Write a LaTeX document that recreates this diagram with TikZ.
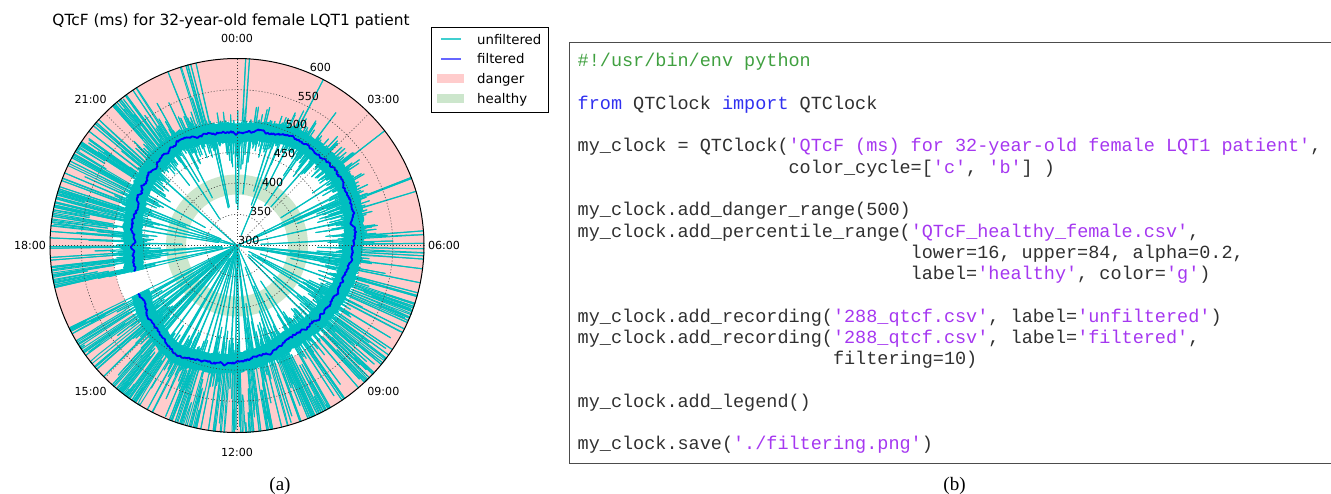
\documentclass[tikz,border=0pt]{standalone}
\usepackage{fontspec}
\setmainfont{Liberation Serif}
\setsansfont{DejaVu Sans}
\setmonofont{Liberation Mono}
\usetikzlibrary{positioning}

\definecolor{mplCyan}     {RGB}{  0,191,191}
\definecolor{mplBlue}     {RGB}{  0,  0,255}
\definecolor{dangerPink}  {RGB}{255,204,204}
\definecolor{healthyGreen}{RGB}{204,230,204}
\definecolor{codeComment} {RGB}{ 64,160, 64}
\definecolor{codeKeyword} {RGB}{ 48, 48,240}
\definecolor{codeString}  {RGB}{165, 55,240}
\definecolor{codeText}    {RGB}{ 48, 48, 48}

\newcommand\pycom[1]{\textcolor{codeComment}{#1}}
\newcommand\pykw[1]{\textcolor{codeKeyword}{#1}}
\newcommand\pystr[1]{\textcolor{codeString}{#1}}

%% tables over clock angle, one entry every 30 deg (00:00 = 0, clockwise)
\def\qtMeanTab{{112,122,124,116,110,107,117,124,109,103,111,119,112}}
\def\qtOutTab{{0.035,0.04,0.05,0.12,0.45,0.70,0.85,0.85,0.85,0.90,0.70,0.22,0.035}}
\def\qtCenTab{{0.002,0.004,0.01,0.04,0.05,0.045,0.05,0.06,0.07,0.05,0.02,0.006,0.002}}

%% linear lookup in one of the tables
\newcommand\qtLookup[3]{%
  \pgfmathsetmacro\qtA{mod(#2,360)/30}%
  \pgfmathtruncatemacro\qtK{\qtA}%
  \pgfmathtruncatemacro\qtKK{\qtK+1}%
  \pgfmathsetmacro#3{#1[\qtK]*(1-(\qtA-\qtK))+#1[\qtKK]*(\qtA-\qtK)}}

\begin{document}
\begin{tikzpicture}[
  x=1pt, y=-1pt,
  %% polar axes
  spine/.style={line width=1pt, black},
  polgrid/.style={line width=0.6pt, black!75, dash pattern=on 1pt off 2pt},
  raw/.style={mplCyan, line width=1pt, line cap=round},
  filt/.style={mplBlue, line width=1.8pt, line join=round},
  hlab/.style={font=\sffamily\fontsize{11.1}{13}\selectfont, inner sep=0pt},
  rlab/.style={font=\sffamily\fontsize{11.1}{13}\selectfont,
    anchor=south west, inner sep=1pt},
  ttl/.style={font=\sffamily\fontsize{15.4}{18}\selectfont, anchor=base, inner sep=0pt},
  %% legend
  legbox/.style={draw=black, line width=0.9pt, minimum width=116.6pt,
    minimum height=85pt, inner sep=0pt},
  legtxt/.style={font=\sffamily\fontsize{13.3}{15}\selectfont,
    anchor=base west, inner sep=0pt},
  %% listing
  codeframe/.style={draw=black!70, line width=1.4pt},
  codeln/.style={font=\ttfamily\fontsize{18.5}{21.3}\selectfont, text=codeText,
    anchor=base west, inner sep=0pt},
  subcap/.style={font=\fontsize{19}{22}\selectfont, anchor=base, inner sep=0pt},
]
\useasboundingbox (0,0) rectangle (1331,493);

%% ── Positions ──────────────────────────────────────────────────────────────
\def\cx{237}     % centre of the clock
\def\cy{245.5}
\def\rO{187}     % 600 ms ring
\def\xC{577.5}   % left edge of code text
\def\cw{11.1}    % code character width
\def\yC{66.7}    % first code baseline
\def\lh{21.29}   % code line height

%% ── TITLE ──────────────────────────────────────────────────────────────────
\node[ttl] (title) at (231,25.7) {QTcF (ms) for 32-year-old female LQT1 patient};

%% ── CLOCK BACKGROUND ───────────────────────────────────────────────────────
\coordinate (ctr) at (\cx,\cy);

% danger range 500--600 and healthy percentile band
\fill[dangerPink, even odd rule] (ctr) circle[radius=\rO] (ctr) circle[radius=124.7];
\fill[healthyGreen, even odd rule] (ctr) circle[radius=71] (ctr) circle[radius=51];

%% ── RAW RECORDING ──────────────────────────────────────────────────────────
\pgfmathsetseed{2871}

% dense core of the trace, one point per degree, 16:15--17:00 missing
\foreach \d in {0,...,348}{%
  \pgfmathsetmacro\qtDeg{256+\d}%
  \qtLookup\qtMeanTab{\qtDeg}\qtM
  \pgfmathsetmacro\qtRo{\qtM+9+2*rnd}%
  \pgfmathsetmacro\qtRi{\qtM-9-1.5*rnd}%
  \pgfmathsetmacro\qtXo{\cx+\qtRo*sin(\qtDeg)}%
  \pgfmathsetmacro\qtYo{\cy-\qtRo*cos(\qtDeg)}%
  \pgfmathsetmacro\qtXi{\cx+\qtRi*sin(\qtDeg)}%
  \pgfmathsetmacro\qtYi{\cy-\qtRi*cos(\qtDeg)}%
  \ifnum\d=0
    \xdef\qtCoreOut{(\qtXo,\qtYo)}\xdef\qtCoreIn{(\qtXi,\qtYi)}%
  \else
    \xdef\qtCoreOut{\qtCoreOut -- (\qtXo,\qtYo)}%
    \xdef\qtCoreIn{(\qtXi,\qtYi) -- \qtCoreIn}%
  \fi
}
\fill[mplCyan] \qtCoreOut -- \qtCoreIn -- cycle;

% six samples per degree
\xdef\qtPx{\cx}\xdef\qtPy{\cy}
\foreach \d in {0,...,347}{%
  \pgfmathsetmacro\qtDeg{256+\d}%
  \pgfmathsetmacro\qtDm{mod(\qtDeg,360)}%
  \qtLookup\qtMeanTab{\qtDeg}\qtM
  \qtLookup\qtOutTab{\qtDeg}\qtPo
  \qtLookup\qtCenTab{\qtDeg}\qtPc
  \pgfmathsetmacro\qtPo{min(0.92,\qtPo*(0.3+1.5*max(0,sin(17*\qtDm+5)+0.6*sin(43*\qtDm+40))))}%
  \pgfmathsetmacro\qtCutB{\qtPc+\qtPo}%
  \pgfmathsetmacro\qtCutC{\qtCutB+0.22}%
  \pgfmathsetmacro\qtCutD{\qtCutC+0.03}%
  \pgfmathsetmacro\qtCutE{\qtCutD+0.12}%
  \foreach \s in {0,...,5}{%
    \pgfmathsetmacro\qtTh{\qtDm+\s/6}%
    \pgfmathsetmacro\qtU{rnd}%
    \ifdim\qtU pt<\qtPc pt
      \pgfmathsetmacro\qtRad{max(0,40*rnd-15)}%
    \else\ifdim\qtU pt<\qtCutB pt
      \pgfmathsetmacro\qtRad{min(187,\qtM+8+(250-\qtM)*rnd)}%
    \else\ifdim\qtU pt<\qtCutC pt
      \pgfmathsetmacro\qtRad{\qtM-12-28*rnd*rnd}%
    \else\ifdim\qtU pt<\qtCutD pt
      \pgfmathsetmacro\qtRad{\qtM-12-75*rnd}%
    \else\ifdim\qtU pt<\qtCutE pt
      \pgfmathsetmacro\qtRad{\qtM+10+16*rnd}%
    \else
      \pgfmathsetmacro\qtRad{\qtM-13+26*rnd}%
    \fi\fi\fi\fi\fi
    \pgfmathsetmacro\qtX{\cx+\qtRad*sin(\qtTh)}%
    \pgfmathsetmacro\qtY{\cy-\qtRad*cos(\qtTh)}%
    \draw[raw] (\qtPx,\qtPy) -- (\qtX,\qtY);
    \xdef\qtPx{\qtX}\xdef\qtPy{\qtY}%
  }%
}
\draw[raw] (\qtPx,\qtPy) -- (ctr);

%% ── FILTERED RECORDING ─────────────────────────────────────────────────────
\gdef\qtW{0}
\foreach \i in {0,...,696}{%
  \pgfmathsetmacro\qtTh{256+0.5*\i}%
  \qtLookup\qtMeanTab{\qtTh}\qtM
  \pgfmathsetmacro\qtWn{0.8*\qtW+2.4*(rnd-0.5)}%
  \xdef\qtW{\qtWn}%
  \pgfmathsetmacro\qtX{\cx+(\qtM+\qtW)*sin(\qtTh)}%
  \pgfmathsetmacro\qtY{\cy-(\qtM+\qtW)*cos(\qtTh)}%
  \ifnum\i=0 \xdef\qtFiltPath{(\qtX,\qtY)}%
  \else \xdef\qtFiltPath{\qtFiltPath -- (\qtX,\qtY)}\fi
}
\draw[filt] \qtFiltPath;

%% ── GRID AND LABELS ────────────────────────────────────────────────────────
\begin{scope}[shift={(\cx,\cy)}]
  \foreach \r in {31.17,62.33,93.5,124.67,155.83}
    \draw[polgrid] (0,0) circle[radius=\r];
  \foreach \a in {0,45,...,315}
    \draw[polgrid] (0,0) -- (\a:\rO);
  \draw[spine] (0,0) circle[radius=\rO];

  % hour labels
  \foreach \a/\lab in {0/00:00, 45/03:00, 90/06:00, 135/09:00,
                       180/12:00, 225/15:00, 270/18:00, 315/21:00}
    \node[hlab] (h\a) at ({\a-90}:207) {\lab};

  % radial labels
  \foreach \v/\r in {300/0, 350/31.17, 400/62.33, 450/93.5,
                     500/124.67, 550/155.83, 600/187}
    \node[rlab] (r\v) at (-67.5:\r) {\v};
\end{scope}

%% ── LEGEND ─────────────────────────────────────────────────────────────────
\node[legbox] (legend) at (490,69.8) {};
\draw[mplCyan!75!white, line width=1.4pt] (441,39) -- (461,39);
\draw[mplBlue!60!white, line width=1.4pt] (441,59) -- (461,59);
\fill[dangerPink]   (437,74) rectangle (464,83);
\fill[healthyGreen] (437,94) rectangle (464,103);
\node[legtxt] (lgRaw)    at (477,44)    {unfiltered};
\node[legtxt] (lgFilt)   at (477,63.7)  {filtered};
\node[legtxt] (lgDanger) at (477,83.4)  {danger};
\node[legtxt] (lgHealth) at (477,103.2) {healthy};

%% ── LISTING ────────────────────────────────────────────────────────────────
\draw[codeframe] (1345,42.7) -| (569.3,463.3) -- (1345,463.3);

\node[codeln] (shebang) at (\xC,\yC)
  {\pycom{\#!/usr/bin/env python}};
\node[codeln] (imp) at (\xC,{\yC+2*\lh})
  {\pykw{from} QTClock \pykw{import} QTClock};
\node[codeln] (clk) at (\xC,{\yC+4*\lh})
  {my\_clock = QTClock(\pystr{'QTcF (ms) for 32-year-old female LQT1 patient'},};
\node[codeln] (clkcyc) at ({\xC+19*\cw},{\yC+5*\lh})
  {color\_cycle=[\pystr{'c'}, \pystr{'b'}] )};
\node[codeln] (danger) at (\xC,{\yC+7*\lh})
  {my\_clock.add\_danger\_range(500)};
\node[codeln] (pct) at (\xC,{\yC+8*\lh})
  {my\_clock.add\_percentile\_range(\pystr{'QTcF\_healthy\_female.csv'},};
\node[codeln] (pctlow) at ({\xC+30*\cw},{\yC+9*\lh})
  {lower=16, upper=84, alpha=0.2,};
\node[codeln] (pctlab) at ({\xC+30*\cw},{\yC+10*\lh})
  {label=\pystr{'healthy'}, color=\pystr{'g'})};
\node[codeln] (rec) at (\xC,{\yC+12*\lh})
  {my\_clock.add\_recording(\pystr{'288\_qtcf.csv'}, label=\pystr{'unfiltered'})};
\node[codeln] (recf) at (\xC,{\yC+13*\lh})
  {my\_clock.add\_recording(\pystr{'288\_qtcf.csv'}, label=\pystr{'filtered'},};
\node[codeln] (recfilt) at ({\xC+23*\cw},{\yC+14*\lh})
  {filtering=10)};
\node[codeln] (leg) at (\xC,{\yC+16*\lh})
  {my\_clock.add\_legend()};
\node[codeln] (save) at (\xC,{\yC+18*\lh})
  {my\_clock.save(\pystr{'./filtering.png'})};

%% ── SUB-CAPTIONS ───────────────────────────────────────────────────────────
\node[subcap] (capA) at (280,490) {(a)};
\node[subcap] (capB) at (954.5,490) {(b)};

\end{tikzpicture}
\end{document}
